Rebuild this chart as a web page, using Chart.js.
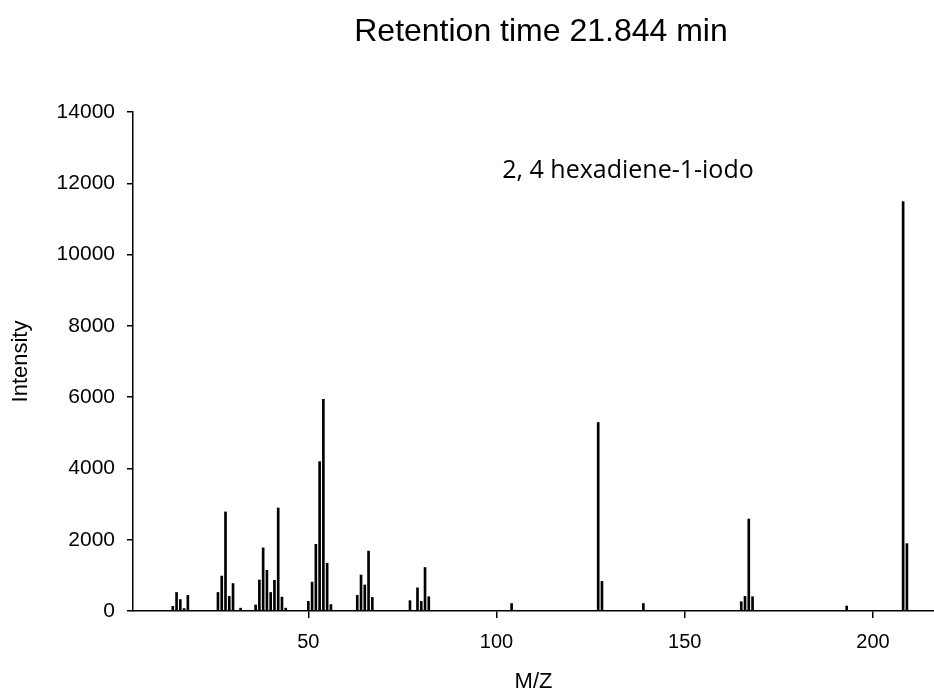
<!DOCTYPE html>
<html>
<head>
<meta charset="utf-8">
<script src="https://cdn.jsdelivr.net/npm/chart.js@4.4.1/dist/chart.umd.min.js"></script>
<style>
  html, body { margin: 0; padding: 0; background: #fff; }
  #wrap { width: 934px; height: 695px; position: relative; }
</style>
</head>
<body>
<div id="wrap"><canvas id="espectro"></canvas></div>
<script>
// Datos del espectro de masas
const mz = [14, 15, 16, 17, 18, 26, 27, 28, 29, 30, 32, 36, 37, 38, 39, 40, 41, 42, 43, 44,
            50, 51, 52, 53, 54, 55, 56, 63, 64, 65, 66, 67, 77, 79, 80, 81, 82,
            104, 127, 128, 139, 165, 166, 167, 168, 193, 208, 209];
const intensidad = [130, 520, 320, 70, 440, 520, 980, 2780, 410, 770, 80, 170, 870, 1770, 1140, 520, 860, 2890, 390, 80,
                    270, 810, 1870, 4190, 5940, 1340, 180, 440, 1010, 730, 1680, 380, 290, 650, 270, 1220, 400,
                    210, 5290, 830, 210, 260, 410, 2580, 400, 140, 11490, 1890];
const xTicks = [50, 100, 150, 200];
const yTicks = [0, 2000, 4000, 6000, 8000, 10000, 12000, 14000];

const titulo = 'Retention time 21.844 min';
const nota = '2, 4 hexadiene-1-iodo';

// Textos fijos: título y nombre del compuesto
const textosPlugin = {
    id: 'textos',
    afterDraw(chart) {
        const ctx = chart.ctx;
        ctx.save();
        ctx.fillStyle = '#000';
        ctx.textAlign = 'center';
        ctx.textBaseline = 'alphabetic';
        ctx.font = '32px "Liberation Sans", Arial, sans-serif';
        ctx.fillText(titulo, 541, 41);
        ctx.font = '25px "Open Sans", sans-serif';
        ctx.fillText(nota, 628, 178);
        ctx.restore();
    }
};

const ctx = document.getElementById('espectro').getContext('2d');
new Chart(ctx, {
    type: 'bar',
    data: {
        datasets: [{
            data: mz.map((x, i) => ({ x: x, y: intensidad[i] })),
            backgroundColor: '#000',
            borderWidth: 0,
            barThickness: 2
        }]
    },
    options: {
        responsive: true,
        maintainAspectRatio: false,
        animation: false,
        layout: { padding: { top: 112, right: 0, left: 0, bottom: 0 } },
        plugins: {
            legend: { display: false },
            tooltip: { enabled: false }
        },
        scales: {
            x: {
                type: 'linear',
                min: 3.43,
                max: 216.2,
                offset: false,
                afterBuildTicks: (scale) => {
                    scale.ticks = xTicks.map(v => ({ value: v }));
                },
                afterFit: (scale) => { scale.height = 84; },
                grid: { display: true, drawOnChartArea: false, drawTicks: true, tickLength: 7, color: '#000', lineWidth: 1.5, offset: false },
                border: { display: true, color: '#000', width: 1.5 },
                ticks: {
                    color: '#000',
                    padding: 12,
                    maxRotation: 0,
                    font: { family: '"Liberation Sans", Arial, sans-serif', size: 20 }
                },
                title: {
                    display: true,
                    text: 'M/Z',
                    color: '#000',
                    font: { family: '"Liberation Sans", Arial, sans-serif', size: 22 },
                    padding: { top: 0, bottom: 0 }
                }
            },
            y: {
                min: 0,
                max: 14000,
                afterBuildTicks: (scale) => {
                    scale.ticks = yTicks.map(v => ({ value: v }));
                },
                afterFit: (scale) => { scale.width = 133; },
                grid: { display: true, drawOnChartArea: false, drawTicks: true, tickLength: 6, color: '#000', lineWidth: 1.5 },
                border: { display: true, color: '#000', width: 1.5 },
                ticks: {
                    color: '#000',
                    padding: 12,
                    callback: (v) => String(v),
                    font: { family: '"Liberation Sans", Arial, sans-serif', size: 21 }
                },
                title: {
                    display: true,
                    text: 'Intensity',
                    color: '#000',
                    font: { family: '"Liberation Sans", Arial, sans-serif', size: 22 },
                    padding: { top: 8, bottom: 0 }
                }
            }
        }
    },
    plugins: [textosPlugin]
});
</script>
</body>
</html>
